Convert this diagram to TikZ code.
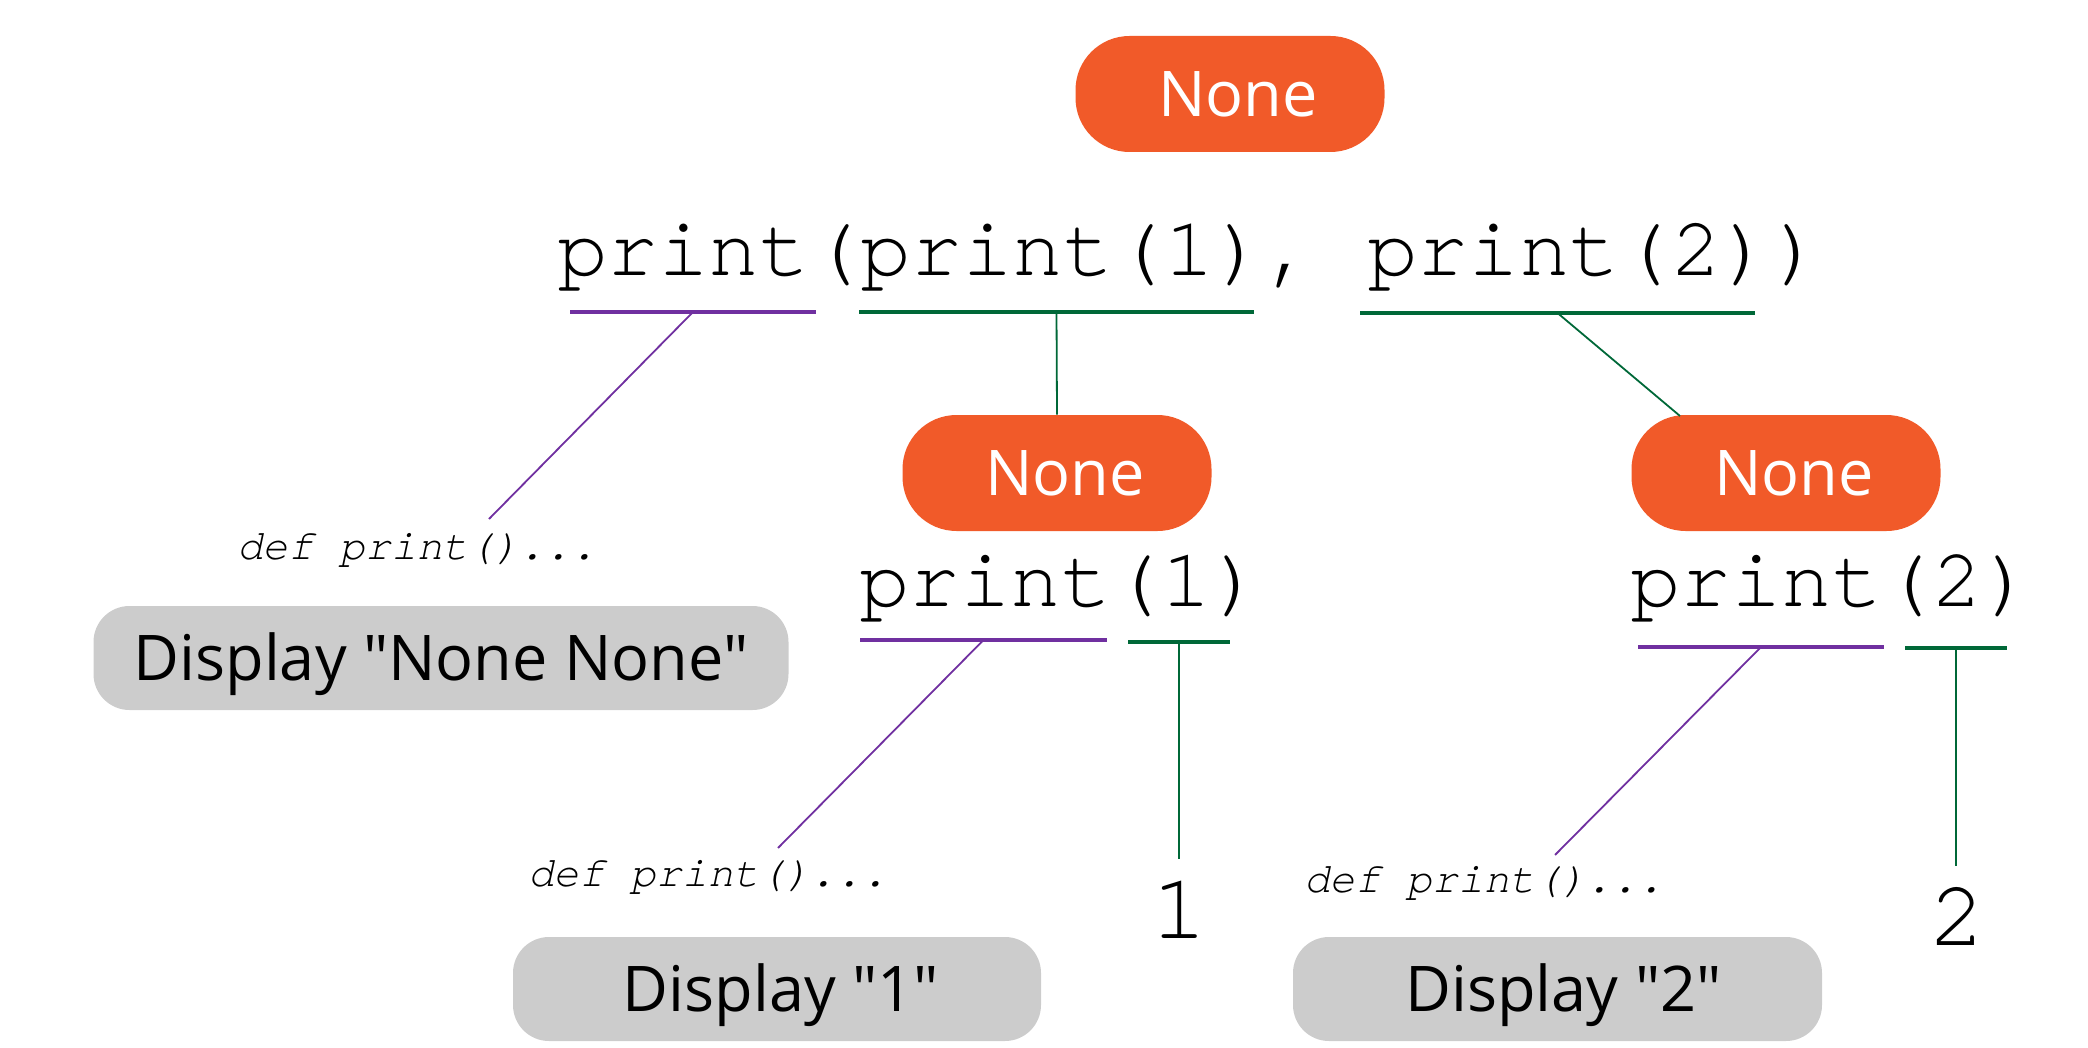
\documentclass[tikz,border=0pt]{standalone}
\usepackage{fontspec}
\setmainfont{Open Sans}[Ligatures=TeXOff]
\setmonofont{TeX Gyre Cursor}
\definecolor{orng}{HTML}{F15A29}
\definecolor{gry}{HTML}{CCCCCC}
\definecolor{purp}{HTML}{7030A0}
\definecolor{grn}{HTML}{006838}
\begin{document}
\begin{tikzpicture}[x=0.5pt,y=-0.5pt,
  pill/.style={fill=orng, rounded corners=27pt, minimum width=154.5pt, minimum height=58pt, inner sep=0pt, text=white, font=\fontsize{31.5}{31.5}\selectfont, text height=22.4pt, text depth=0pt},
  dispbox/.style={fill=gry, rounded corners=18pt, minimum height=52pt, inner sep=0pt, font=\fontsize{31.5}{31.5}\selectfont, text height=22.5pt, text depth=0pt},
  code/.style={font=\ttfamily\fontsize{42.2}{42.2}\selectfont, inner sep=0pt, anchor=base},
  subcode/.style={font=\ttfamily\fontsize{42}{42}\selectfont, inner sep=0pt, anchor=base},
  defn/.style={font=\ttfamily\itshape\fontsize{21.4}{21.4}\selectfont, inner sep=0pt, anchor=base},
  num/.style={font=\ttfamily\fontsize{47}{47}\selectfont, inner sep=0pt, anchor=base},
  ulp/.style={fill=purp, inner sep=0pt, minimum height=2pt},
  ulg/.style={fill=grn, inner sep=0pt, minimum height=2pt},
  cp/.style={draw=purp, line width=0.9pt},
  cg/.style={draw=grn, line width=0.9pt}]
\useasboundingbox (0,0) rectangle (2088,1048);
% top level
\node[pill] (n1) at (1230,94) {\hspace*{8pt}None};
\node[code] (main) at (1190,276) {print(print(1), print(2))};
\node[ulp, minimum width=123pt] (u1) at (693,312) {};
\node[ulg, minimum width=197.5pt] (u2) at (1056.5,312) {};
\node[ulg, minimum width=197.5pt] (u3) at (1557.5,313) {};
\node[defn] (d1) at (417,559) {def print()...};
\node[dispbox, minimum width=347.5pt] (b1) at (441,658) {Display "None None"};
\coordinate (e1) at (489,519);
\draw[cp] (u1.center) -- (e1);
% middle
\node[pill] (n2) at (1057,473) {\hspace*{8pt}None};
\node[pill] (n3) at (1786,473) {\hspace*{8pt}None};
\coordinate (e3) at (1680,416);
\draw[cg] (u2.center) -- (n2.north);
\draw[cg] (u3.center) -- (e3);
% print(1)
\node[subcode] (p1) at (1061,606) {print(1)};
\node[ulp, minimum width=123.5pt] (u4) at (983.5,640) {};
\node[ulg, minimum width=51pt] (u5) at (1179,642) {};
\node[defn] (d2) at (708,886) {def print()...};
\node[num] (one) at (1180,938) {1};
\node[dispbox, minimum width=264pt] (b2) at (777,989) {\hspace*{4pt}Display "1"};
\coordinate (e4) at (778,848);
\coordinate (e5) at (1179,859);
\draw[cp] (u4.center) -- (e4);
\draw[cg] (u5.center) -- (e5);
% print(2)
\node[subcode] (p2) at (1832,606) {print(2)};
\node[ulp, minimum width=123pt] (u6) at (1761,647) {};
\node[ulg, minimum width=51pt] (u7) at (1956,648) {};
\node[defn] (d3) at (1484,892) {def print()...};
\node[num] (two) at (1958,945) {2};
\node[dispbox, minimum width=264.5pt] (b3) at (1557.5,989) {\hspace*{6pt}Display "2"};
\coordinate (e6) at (1555,855);
\coordinate (e7) at (1956,866);
\draw[cp] (u6.center) -- (e6);
\draw[cg] (u7.center) -- (e7);
\end{tikzpicture}
\end{document}
